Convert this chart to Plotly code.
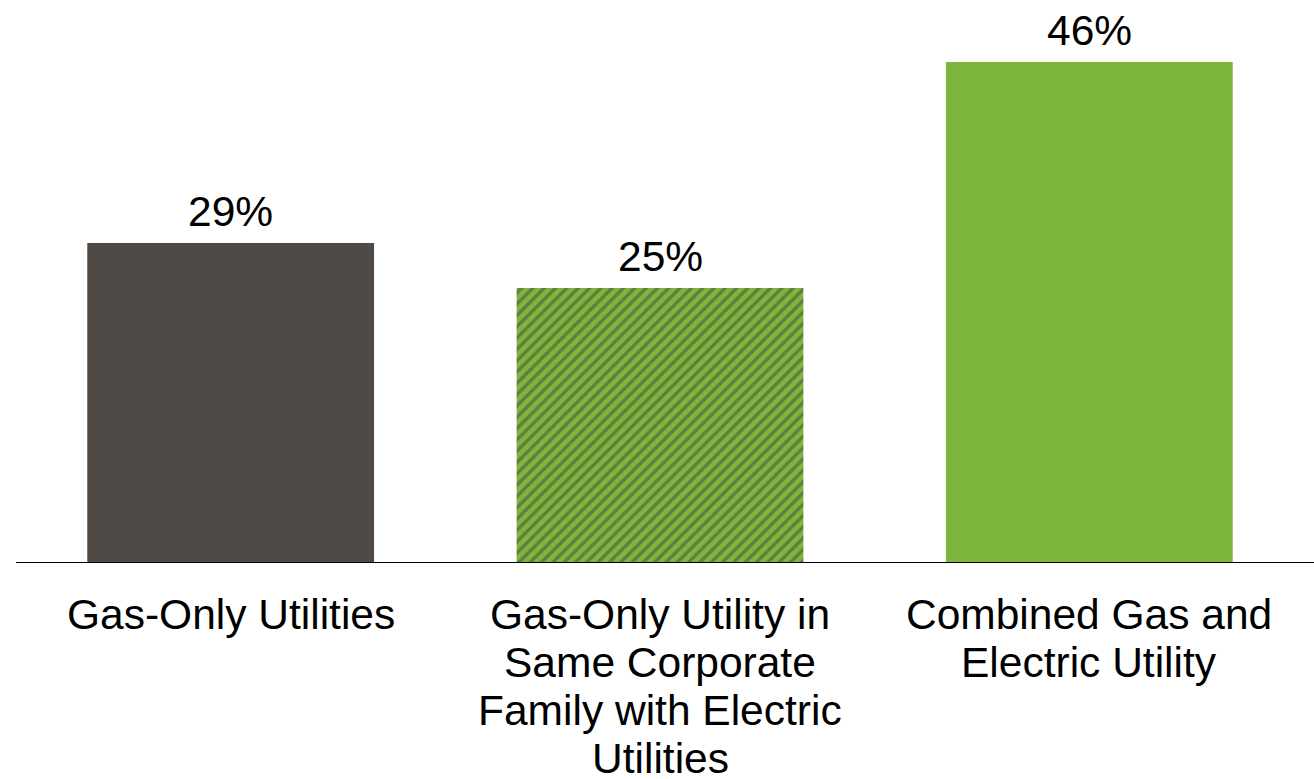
import plotly.graph_objects as go

categories = ["Gas-Only Utilities",
              "Gas-Only Utility in<br>Same Corporate<br>Family with Electric<br>Utilities",
              "Combined Gas and<br>Electric Utility"]
values = [29.2, 25.1, 45.7]
value_labels = ["29%", "25%", "46%"]

DARK = "#4F4A46"
GREEN = "#7DB63B"
FONT = "Liberation Sans, Arial, sans-serif"

fig = go.Figure()
fig.add_trace(go.Bar(
    x=categories, y=values,
    cliponaxis=False,
    marker=dict(
        color=[DARK, GREEN, GREEN],
        line=dict(width=0),
        pattern=dict(shape=["", "/", ""], fgcolor=DARK,
                     size=8, solidity=0.42, fillmode="overlay"),
    ),
    width=0.668,
))

for cat, v, lab in zip(categories, values, value_labels):
    fig.add_annotation(x=cat, y=v, xref="x", yref="y", text=lab,
                       showarrow=False, yanchor="bottom", xanchor="center",
                       yshift=6, font=dict(family=FONT, size=42.5, color="black"))

# multi-line category labels with tighter line spacing
LINE_H = 48
for cat in categories:
    for k, line in enumerate(cat.split("<br>")):
        fig.add_annotation(x=cat, y=0, xref="x", yref="y", text=line,
                           showarrow=False, yanchor="top", xanchor="center",
                           yshift=-26 - k * LINE_H,
                           font=dict(family=FONT, size=42.5, color="black"))

fig.add_shape(type="line", xref="paper", yref="y", x0=0, x1=(1314 - 16) / 1288,
              y0=0, y1=0, line=dict(color="black", width=2))

fig.update_layout(
    width=1314, height=779,
    margin=dict(l=16, r=10, t=13, b=216),
    plot_bgcolor="white", paper_bgcolor="white",
    showlegend=False,
    xaxis=dict(showticklabels=False, showline=False, showgrid=False, zeroline=False,
               ticks=""),
    yaxis=dict(range=[0, 50.18], visible=False, showgrid=False, zeroline=False),
)

fig.write_html("out.html")
